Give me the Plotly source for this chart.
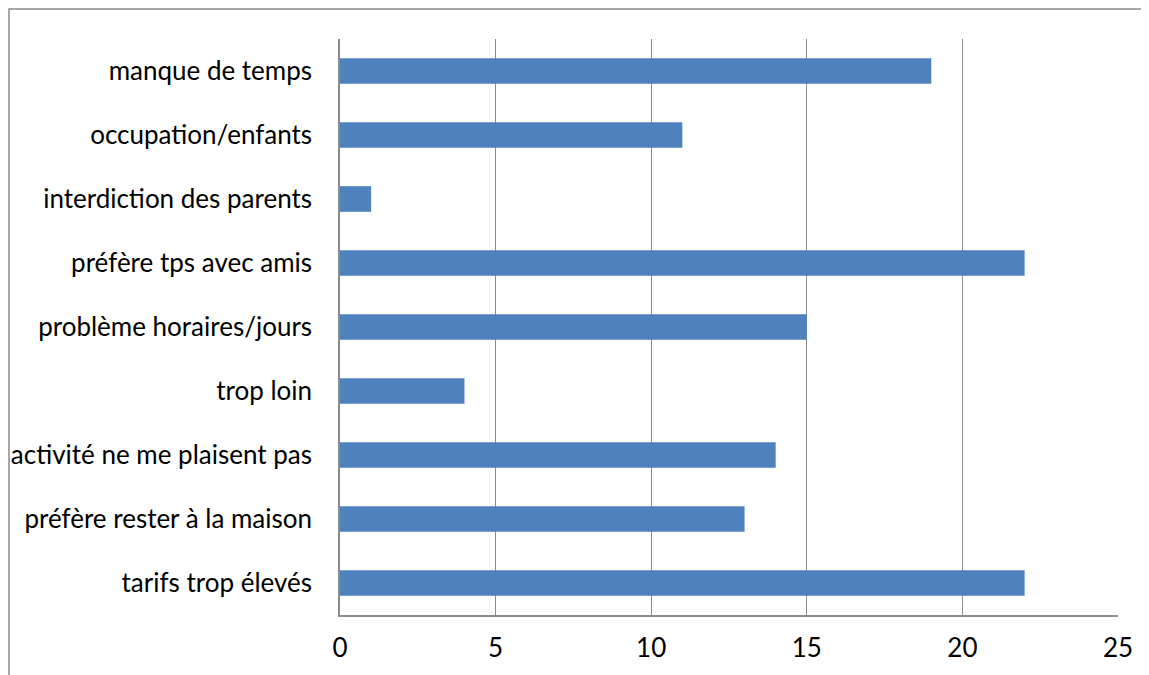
import plotly.graph_objects as go

categories = [
    "manque de temps",
    "occupation/enfants",
    "interdiction des parents",
    "préfère tps avec amis",
    "problème horaires/jours",
    "trop loin",
    "activité ne me plaisent pas",
    "préfère rester à la maison",
    "tarifs trop élevés",
]
values = [19, 11, 1, 22, 15, 4, 14, 13, 22]
x_ticks = [0, 5, 10, 15, 20, 25]

# page body has an 8px default margin, so the figure is drawn at (8, 8)
W, H = 1141, 667
L, R, T, B = 332, 31, 31, 60
pw, ph = W - L - R, H - T - B

fig = go.Figure(
    go.Bar(
        x=values,
        y=categories,
        orientation="h",
        marker=dict(color="#4F81BD", line=dict(width=0)),
    )
)

fig.update_layout(
    width=W,
    height=H,
    margin=dict(l=L, r=R, t=T, b=B, autoexpand=False),
    paper_bgcolor="white",
    plot_bgcolor="white",
    bargap=0.6,
    showlegend=False,
    font=dict(family="Lato, Carlito, Calibri, sans-serif", size=26, color="black"),
    xaxis=dict(
        range=[0, 25],
        tickvals=x_ticks,
        showgrid=True,
        gridcolor="#8c8c8c",
        gridwidth=1,
        showline=True,
        linecolor="#8c8c8c",
        linewidth=1.5,
        zeroline=False,
        ticks="outside",
        ticklen=1,
        tickcolor="rgba(0,0,0,0)",
        ticklabelstandoff=8,
        tickfont=dict(size=26),
        automargin=False,
        fixedrange=True,
    ),
    yaxis=dict(
        categoryorder="array",
        categoryarray=categories,
        autorange="reversed",
        showgrid=False,
        showline=True,
        linecolor="#8c8c8c",
        linewidth=1.5,
        ticks="",
        ticklabelstandoff=21,
        tickfont=dict(size=26),
        automargin=False,
        fixedrange=True,
    ),
    shapes=[
        dict(
            type="rect",
            xref="paper",
            yref="paper",
            x0=(1 - L) / pw,
            x1=(W + 20 - L) / pw,
            y0=(H - B - (H + 20)) / ph,
            y1=(H - B - 1) / ph,
            line=dict(color="#8a8a8a", width=1.5),
            fillcolor="rgba(0,0,0,0)",
            layer="below",
        )
    ],
)

fig.write_html("out.html")
